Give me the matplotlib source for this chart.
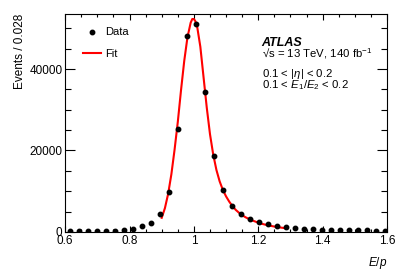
import numpy as np
import matplotlib.pyplot as plt
from matplotlib.ticker import MultipleLocator

plt.rcParams['font.family'] = ['Liberation Sans', 'DejaVu Sans']
plt.rcParams['mathtext.fontset'] = 'custom'
plt.rcParams['mathtext.rm'] = 'Liberation Sans'
plt.rcParams['mathtext.it'] = 'Liberation Sans:italic'

# data points (bin centres, bin width 0.028)
data_x = [0.614 + 0.028 * k for k in range(36)]
data_y = [100, 100, 120, 150, 200, 280, 420, 750, 1400, 2150,
          4350, 9900, 25200, 48100, 51100, 34300, 18600, 10400, 6400, 4400,
          3150, 2350, 1850, 1500, 1250, 950, 750, 650, 550, 500,
          450, 400, 380, 350, 320, 300]

# fit curve
fit_x = [0.90, 0.91, 0.92, 0.93, 0.94, 0.95, 0.96, 0.97, 0.98, 0.99,
         0.995, 1.00, 1.005, 1.01, 1.02, 1.03, 1.04, 1.05, 1.06, 1.07,
         1.08, 1.09, 1.10, 1.11, 1.12, 1.13, 1.14, 1.15, 1.16, 1.17,
         1.18, 1.19, 1.20, 1.21, 1.22, 1.23, 1.24, 1.25, 1.26, 1.27,
         1.28, 1.29]
fit_y = [3450, 5830, 9340, 14130, 20200, 27000, 34800, 42000, 47800, 51400,
         52300, 52300, 51700, 50500, 45500, 38000, 30500, 24000, 19000, 15200,
         12400, 10300, 8700, 7400, 6300, 5400, 4700, 4100, 3600, 3200,
         2850, 2550, 2250, 2000, 1800, 1620, 1450, 1300, 1170, 1050,
         940, 840]

fig = plt.figure(figsize=(4.07, 2.77), dpi=100)
ax = fig.add_axes([0.16, 0.163, 0.791, 0.786])

ax.plot(fit_x, fit_y, color='red', lw=1.5, label='Fit', zorder=2)
ax.plot(data_x, data_y, 'o', color='black', ms=3.2, label='Data', zorder=3)

ax.set_xlim(0.6, 1.6)
ax.set_ylim(0, 53500)
ax.xaxis.set_major_locator(MultipleLocator(0.2))
ax.xaxis.set_minor_locator(MultipleLocator(0.05))
ax.yaxis.set_major_locator(MultipleLocator(20000))
ax.yaxis.set_minor_locator(MultipleLocator(5000))
ax.set_xticks([0.6, 0.8, 1.0, 1.2, 1.4, 1.6])
ax.set_xticklabels(['0.6', '0.8', '1', '1.2', '1.4', '1.6'])
ax.tick_params(which='both', direction='in', top=True, right=True,
               labelsize=8.5, width=0.8, pad=2)
ax.tick_params(axis='x', which='major', length=4.3)
ax.tick_params(axis='x', which='minor', length=2.4)
ax.tick_params(axis='y', which='major', length=7)
ax.tick_params(axis='y', which='minor', length=4)
for s in ax.spines.values():
    s.set_linewidth(0.8)

ax.set_ylabel('Events / 0.028', fontsize=8.5, loc='top', labelpad=2)
ax.set_xlabel('$E/p$', fontsize=8.5, loc='right', labelpad=6)

handles, labels = ax.get_legend_handles_labels()
ax.legend(handles[::-1], labels[::-1], loc='upper left', frameon=False,
          fontsize=8, handlelength=1.6, handletextpad=0.4,
          bbox_to_anchor=(0.025, 0.985), labelspacing=1.0)

ax.text(0.61, 0.855, 'ATLAS', transform=ax.transAxes, fontsize=9,
        fontweight='bold', style='italic', va='baseline')
ax.text(0.61, 0.80, '√s = 13 TeV, 140 fb$^{\\mathregular{-1}}$',
        transform=ax.transAxes, fontsize=8.2, va='baseline')
ax.text(0.61, 0.713, r'0.1 < |$\eta$| < 0.2', transform=ax.transAxes,
        fontsize=8.2, va='baseline')
ax.text(0.61, 0.662, r'0.1 < $E_{\mathregular{1}}/E_{\mathregular{2}}$ < 0.2',
        transform=ax.transAxes, fontsize=8.2, va='baseline')

fig.savefig('out.png', dpi=100)
